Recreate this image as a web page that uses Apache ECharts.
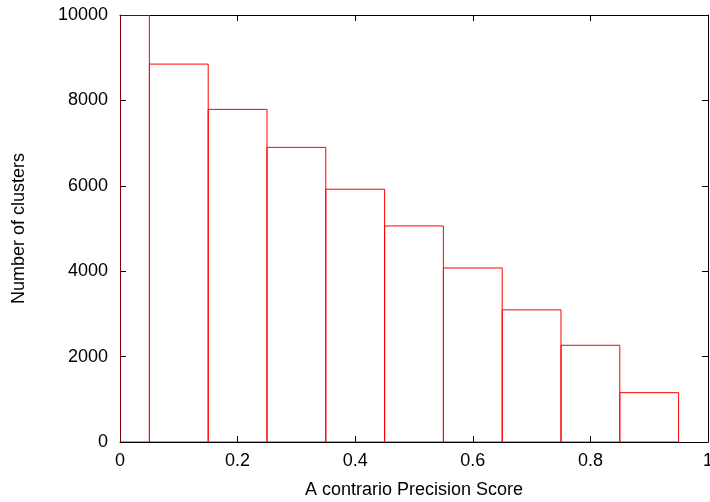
<!DOCTYPE html>
<html>
<head>
<meta charset="utf-8">
<script src="https://cdn.jsdelivr.net/npm/echarts@6/dist/echarts.min.js"></script>
<style>
  html, body { margin: 0; padding: 0; background: #fff; }
  #chart { width: 710px; height: 502px; }
</style>
</head>
<body>
<div id="chart"></div>
<script>
// Histogram of a contrario precision scores: bin centres and counts
const binCenters = [0.0, 0.1, 0.2, 0.3, 0.4, 0.5, 0.6, 0.7, 0.8, 0.9];
const binCounts  = [10600, 8850, 7790, 6900, 5920, 5060, 4075, 3095, 2265, 1155];
const binWidth = 0.1;
const xTicks = [0, 0.2, 0.4, 0.6, 0.8, 1];
const yTicks = [0, 2000, 4000, 6000, 8000, 10000];

const chart = echarts.init(document.getElementById('chart'), null, { renderer: 'canvas' });

const labelFont = { fontFamily: 'Liberation Sans, Arial, sans-serif', fontSize: 18, color: '#000' };
const axisLine = { show: true, onZero: false, lineStyle: { color: '#000', width: 1 } };
const ticksIn = { show: true, inside: true, length: 6, lineStyle: { color: '#000', width: 1 } };

chart.setOption({
  animation: false,
  backgroundColor: '#fff',
  grid: { left: 120, right: 2, top: 15, bottom: 60, containLabel: false, outerBoundsMode: 'none' },
  xAxis: [
    {
      type: 'value', min: xTicks[0], max: xTicks[xTicks.length - 1], interval: 0.2, position: 'bottom',
      name: 'A contrario Precision Score', nameLocation: 'middle', nameGap: 39,
      nameTextStyle: labelFont,
      axisLine: axisLine, axisTick: ticksIn, splitLine: { show: false },
      axisLabel: Object.assign({ margin: 10, formatter: v => String(+v.toFixed(1)) }, labelFont)
    },
    {
      type: 'value', min: xTicks[0], max: xTicks[xTicks.length - 1], interval: 0.2, position: 'top',
      axisLine: axisLine, axisTick: ticksIn, axisLabel: { show: false }, splitLine: { show: false }
    }
  ],
  yAxis: [
    {
      type: 'value', min: yTicks[0], max: yTicks[yTicks.length - 1], interval: 2000, position: 'left',
      name: 'Number of clusters', nameLocation: 'middle', nameGap: 92,
      nameTextStyle: labelFont,
      axisLine: axisLine, axisTick: ticksIn, splitLine: { show: false },
      axisLabel: Object.assign({ margin: 12, formatter: v => String(v) }, labelFont)
    },
    {
      type: 'value', min: yTicks[0], max: yTicks[yTicks.length - 1], interval: 2000, position: 'right',
      axisLine: axisLine, axisTick: ticksIn, axisLabel: { show: false }, splitLine: { show: false }
    }
  ],
  series: [{
    type: 'custom',
    xAxisIndex: 0,
    yAxisIndex: 0,
    clip: true,
    data: binCenters.map((c, i) => [c, binCounts[i]]),
    encode: { x: 0, y: 1 },
    renderItem: function (params, api) {
      const c = api.value(0);
      const v = api.value(1);
      const p0 = api.coord([c - binWidth / 2, 0]);
      const p1 = api.coord([c + binWidth / 2, v]);
      const rect = echarts.graphic.clipRectByRect(
        { x: p0[0], y: p1[1], width: p1[0] - p0[0], height: p0[1] - p1[1] },
        { x: params.coordSys.x, y: params.coordSys.y, width: params.coordSys.width, height: params.coordSys.height }
      );
      if (!rect) return null;
      return {
        type: 'rect',
        shape: rect,
        style: { fill: 'none', stroke: '#ff0000', lineWidth: 1 }
      };
    }
  }]
});
</script>
</body>
</html>
